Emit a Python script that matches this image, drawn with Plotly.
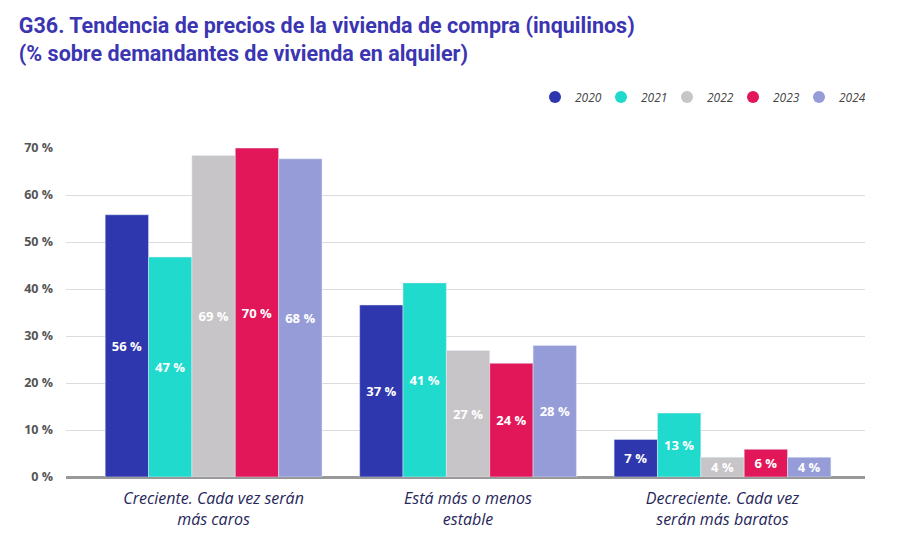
import plotly.graph_objects as go

categorias = ["Creciente. Cada vez serán<br>más caros",
              "Está más o menos<br>estable",
              "Decreciente. Cada vez<br>serán más baratos"]
anios = ["2020", "2021", "2022", "2023", "2024"]
colores = ["#2f37ae", "#1fdacd", "#c7c5c7", "#e1175a", "#959cd8"]

# valores (% sobre demandantes de vivienda en alquiler)
v2020 = [55.8, 36.6, 8.0]
v2021 = [46.8, 41.3, 13.6]
v2022 = [68.4, 26.9, 4.2]
v2023 = [70.0, 24.2, 5.9]
v2024 = [67.7, 28.0, 4.2]

# etiquetas tal como aparecen en el original
e2020 = ["56 %", "37 %", "7 %"]
e2021 = ["47 %", "41 %", "13 %"]
e2022 = ["69 %", "27 %", "4 %"]
e2023 = ["70 %", "24 %", "6 %"]
e2024 = ["68 %", "28 %", "4 %"]

valores = [v2020, v2021, v2022, v2023, v2024]
etiquetas = [e2020, e2021, e2022, e2023, e2024]

fig = go.Figure()
for anio, col, vals, etq in zip(anios, colores, valores, etiquetas):
    fig.add_trace(go.Bar(
        x=categorias, y=vals, name=anio, marker_color=col,
        text=etq, textposition="inside", insidetextanchor="middle",
        textangle=0, constraintext="none",
        textfont=dict(family="Open Sans", size=13, color="white", weight="bold"),
        showlegend=False, hoverinfo="skip",
    ))
    # entrada de leyenda con circulo
    fig.add_trace(go.Scatter(
        x=[None], y=[None], mode="markers", name=anio,
        marker=dict(symbol="circle", size=11, color=col),
    ))

fig.update_layout(
    width=898, height=547,
    paper_bgcolor="white", plot_bgcolor="white",
    margin=dict(l=66, r=33, t=148, b=70, autoexpand=False),
    barmode="group", bargap=0.148, bargroupgap=0,
    title=dict(
        text="G36. Tendencia de precios de la vivienda de compra (inquilinos)<br>(% sobre demandantes de vivienda en alquiler)",
        x=0.021, xanchor="left", y=0.94, yanchor="top",
        font=dict(family="Roboto", size=21.5, color="#3b35b2", weight="bold"),
    ),
    legend=dict(
        orientation="h", x=1.0, xanchor="right", y=1.155, yanchor="middle",
        font=dict(family="Open Sans", size=12, color="#444444", style="italic"),
        itemsizing="constant", itemwidth=30, entrywidth=21, entrywidthmode="pixels",
    ),
    xaxis=dict(
        range=[-0.58, 2.56], showgrid=False, showline=False, ticks="",
        tickfont=dict(family="Open Sans", size=16, color="#26265a", style="italic"),
        ticklabelstandoff=10, fixedrange=True,
    ),
    yaxis=dict(
        range=[0, 70], tickvals=[0, 10, 20, 30, 40, 50, 60, 70],
        ticktext=["0 %", "10 %", "20 %", "30 %", "40 %", "50 %", "60 %", "70 %"],
        showgrid=True, gridcolor="#dcdcdc", gridwidth=1,
        zeroline=True, zerolinecolor="#999999", zerolinewidth=2.5,
        tickfont=dict(family="Open Sans", size=12.5, color="#555555", weight="bold"),
        ticklabelstandoff=12, fixedrange=True,
    ),
)

# quitar el margen por defecto del <body> para que la figura empiece en (0,0)
fig.write_html("out.html", config={"displayModeBar": False},
               post_script="document.body.style.margin='0px';")
